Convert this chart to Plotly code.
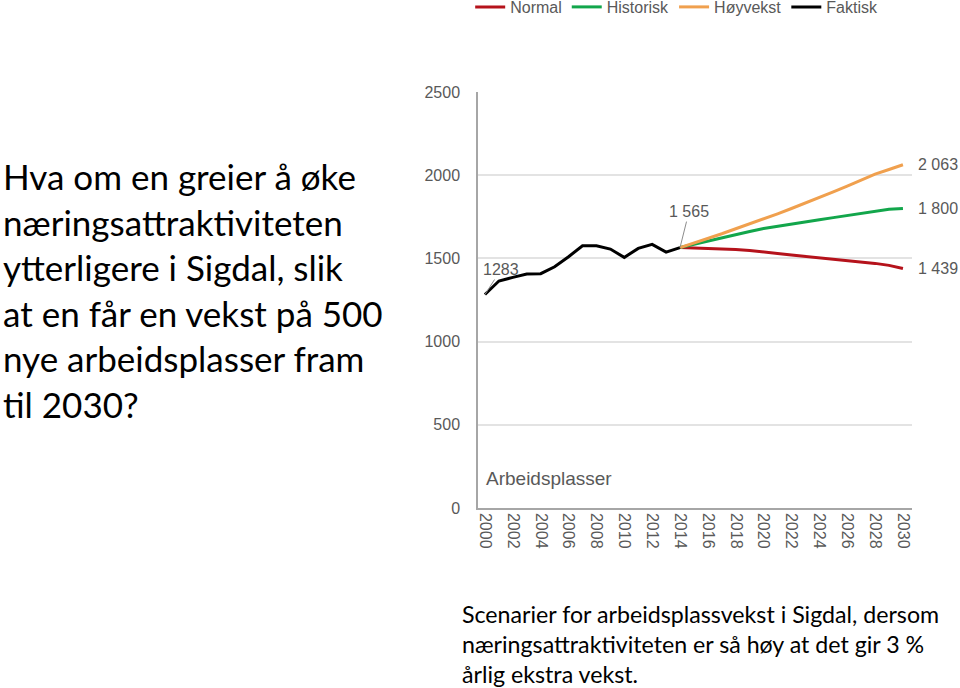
import plotly.graph_objects as go

years_hist = list(range(2000, 2015))
faktisk = [1283, 1364, 1386, 1406, 1408, 1450, 1510, 1576, 1576, 1556, 1506, 1560, 1584, 1538, 1565]

years_proj = list(range(2014, 2031))
normal = [1565, 1563, 1560, 1558, 1553, 1547, 1540, 1530, 1520, 1512, 1505, 1497, 1488, 1479, 1470, 1458, 1439]
historisk = [1565, 1585, 1605, 1625, 1645, 1662, 1680, 1692, 1705, 1718, 1732, 1745, 1758, 1772, 1785, 1795, 1800]
hoyvekst = [1565, 1592, 1620, 1648, 1678, 1707, 1738, 1768, 1800, 1832, 1866, 1900, 1935, 1970, 2006, 2034, 2063]

tick_years = list(range(2000, 2031, 2))

GRAY = "#595959"
FONT = "Liberation Sans"
TFONT = "Lato"

fig = go.Figure()
fig.add_trace(go.Scatter(x=years_proj, y=normal, mode="lines", name="Normal",
                         line=dict(color="#B5121B", width=3)))
fig.add_trace(go.Scatter(x=years_proj, y=historisk, mode="lines", name="Historisk",
                         line=dict(color="#12A64B", width=3)))
fig.add_trace(go.Scatter(x=years_proj, y=hoyvekst, mode="lines", name="Høyvekst",
                         line=dict(color="#F0A04E", width=3)))
fig.add_trace(go.Scatter(x=years_hist, y=faktisk, mode="lines", name="Faktisk",
                         line=dict(color="#000000", width=3)))

ann = []
ann.append(dict(x=years_hist[0], y=faktisk[0], xref="x", yref="y", text=str(faktisk[0]),
                showarrow=True, arrowhead=0, arrowwidth=1, arrowcolor="#8c8c8c",
                ax=16, ay=-25, font=dict(size=16, color=GRAY, family=FONT)))
ann.append(dict(x=years_hist[-1], y=faktisk[-1], xref="x", yref="y",
                text=f"{faktisk[-1]:,}".replace(",", " "),
                showarrow=True, arrowhead=0, arrowwidth=1, arrowcolor="#8c8c8c",
                ax=9, ay=-36, font=dict(size=16, color=GRAY, family=FONT)))
for series in (hoyvekst, historisk, normal):
    ann.append(dict(x=1.009, y=series[-1], xref="paper", yref="y",
                    text=f"{series[-1]:,}".replace(",", " "), showarrow=False,
                    xanchor="left", yanchor="middle",
                    font=dict(size=16, color=GRAY, family=FONT)))
ann.append(dict(x=0.014, y=180, xref="paper", yref="y", text="Arbeidsplasser",
                showarrow=False, xanchor="left", yanchor="middle",
                font=dict(size=19, color=GRAY, family=FONT)))

left_text = ("Hva om en greier å øke<br>næringsattraktiviteten<br>ytterligere i Sigdal, slik<br>"
             "at en får en vekst på 500<br>nye arbeidsplasser fram<br>til 2030?")
ann.append(dict(x=(1 - 478) / 434, y=(508 - 153) / 416, xref="paper", yref="paper",
                text=left_text, showarrow=False, xanchor="left", yanchor="top", align="left",
                font=dict(size=35, color="#000000", family=TFONT)))
bottom_text = ("Scenarier for arbeidsplassvekst i Sigdal, dersom<br>"
               "næringsattraktiviteten er så høy at det gir 3 %<br>årlig ekstra vekst.")
ann.append(dict(x=(460 - 478) / 434, y=(508 - 598) / 416, xref="paper", yref="paper",
                text=bottom_text, showarrow=False, xanchor="left", yanchor="top", align="left",
                font=dict(size=23.2, color="#000000", family=TFONT)))

fig.update_layout(
    width=960, height=688,
    margin=dict(l=478, r=48, t=92, b=180, autoexpand=False),
    paper_bgcolor="white", plot_bgcolor="white",
    font=dict(family=FONT, color=GRAY),
    showlegend=True,
    legend=dict(orientation="h", x=-0.018, y=(508 - 7) / 416, xanchor="left", yanchor="middle",
                font=dict(size=16, color=GRAY, family=FONT), itemwidth=30,
                traceorder="normal", bgcolor="rgba(0,0,0,0)"),
    annotations=ann,
    xaxis=dict(range=[1999.5, 2030.65], tickmode="array", tickvals=tick_years,
               ticktext=[str(y) for y in tick_years], tickangle=90,
               tickfont=dict(size=16, color=GRAY, family=FONT),
               showgrid=False, showline=True, linecolor="#a6a6a6", linewidth=1.5,
               zeroline=False, ticks=""),
    yaxis=dict(range=[0, 2500], tickvals=[0, 500, 1000, 1500, 2000, 2500],
               tickfont=dict(size=16, color=GRAY, family=FONT),
               showgrid=True, gridcolor="#e3e3e3", gridwidth=1.5,
               showline=True, linecolor="#a6a6a6", linewidth=1.5,
               zeroline=False, ticks="", ticklabelstandoff=13),
)

fig.write_html("out.html")
